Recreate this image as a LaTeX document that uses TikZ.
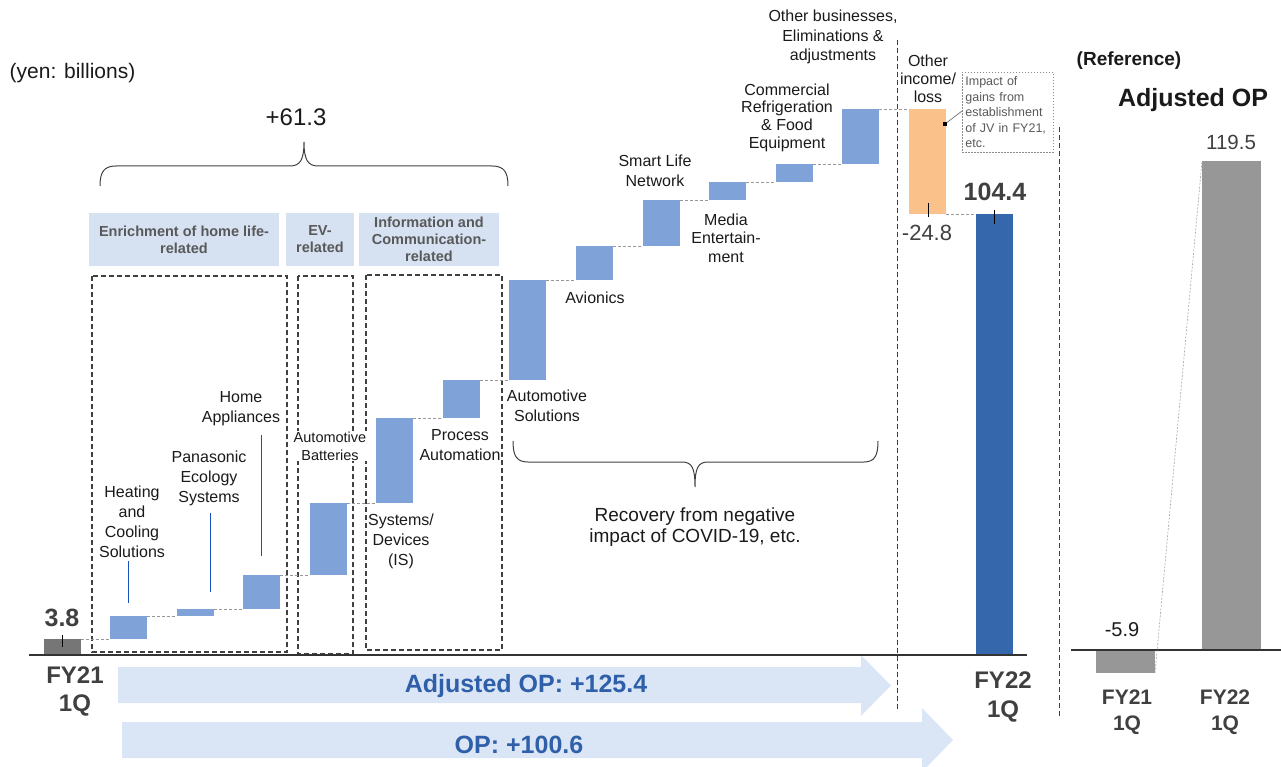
\documentclass[tikz,border=0pt]{standalone}
\usepackage{fontspec}
\setmainfont{Liberation Sans}
\usetikzlibrary{calc}
\definecolor{barblue}{HTML}{7FA3D8}
\definecolor{fyagray}{HTML}{767676}
\definecolor{fybblue}{HTML}{3567AC}
\definecolor{orng}{HTML}{FBC18A}
\definecolor{rgray}{HTML}{979797}
\definecolor{hdrfill}{HTML}{D6E1F2}
\definecolor{arrfill}{HTML}{DAE6F6}
\definecolor{arrtext}{HTML}{2F5FA9}
\definecolor{leadblue}{HTML}{1A4FC4}
\definecolor{txt}{HTML}{1A1A1A}
\definecolor{numgray}{HTML}{404040}
\definecolor{hdrtext}{HTML}{595959}
\newcommand\myfs[2]{\fontsize{#1}{#2}\selectfont}
\begin{document}
\begin{tikzpicture}[x=1pt,y=-1pt,
  barbox/.style={inner sep=0pt, outer sep=0pt, draw=none, anchor=north west},
  conn/.style={draw=black!40, dash pattern=on 3pt off 2pt, line width=0.8pt},
  dbox/.style={draw=numgray, dash pattern=on 5pt off 3pt, line width=1.1pt},
  sepline/.style={draw=numgray, dash pattern=on 5pt off 3pt, line width=1pt},
  lbl/.style={align=center, inner sep=0pt, text=txt, font=\myfs{16}{20}},
  leadline/.style={draw=leadblue, line width=1pt},
  tickline/.style={draw=black, line width=0.9pt},
  hdr/.style={fill=hdrfill, inner sep=0pt, align=center, text=hdrtext, font=\bfseries\myfs{14.5}{17}},
  bracepath/.style={draw=numgray, line width=1pt},
  axisline/.style={draw=black!80, line width=2.5pt},
  arrowbody/.style={fill=arrfill, draw=none},
  arrlbl/.style={text=arrtext, font=\bfseries\myfs{25}{28}, inner sep=0pt}
]
\useasboundingbox (0,0) rectangle (1281,767);
\clip (0,0) rectangle (1281,767);

% ---------- big arrows ----------
\fill[arrowbody] (118,667) -- (861,667) -- (861,655) -- (891,685.5) -- (861,716) -- (861,703) -- (118,703) -- cycle;
\fill[arrowbody] (122,722) -- (922,722) -- (922,708) -- (953,740) -- (922,772) -- (922,758) -- (122,758) -- cycle;
\node[arrlbl] (adjop) at (526,686) {Adjusted OP: +125.4};
\node[arrlbl] (opall) at (519,745) {OP: +100.6};

% ---------- dashed group boxes ----------
\draw[dbox] (92,276) rectangle (287,652);
\draw[dbox] (298,276) rectangle (353,654);
\draw[dbox] (366,275) rectangle (502,650);

% ---------- vertical separators ----------
\draw[sepline] (897,40) -- (897,710);
\draw[sepline] (1059,127) -- (1059,717);

% ---------- header boxes ----------
\node[hdr, minimum width=190pt, minimum height=53pt] (h1) at (184,239.5) {Enrichment of home life-\\related};
\node[hdr, minimum width=68pt, minimum height=53pt] (h2) at (320,239.5) {EV-\\related};
\node[hdr, minimum width=140pt, minimum height=53pt] (h3) at (429,239.5) {Information and\\Communication-\\related};

% ---------- waterfall bars ----------
\node[barbox, fill=fyagray, minimum width=37pt, minimum height=16pt] (fya) at (44,639) {};
\node[barbox, fill=barblue, minimum width=37pt, minimum height=23pt] (heat) at (110,616) {};
\node[barbox, fill=barblue, minimum width=37pt, minimum height=7pt] (eco) at (177,609) {};
\node[barbox, fill=barblue, minimum width=37pt, minimum height=34pt] (home) at (243,575) {};
\node[barbox, fill=barblue, minimum width=37pt, minimum height=72pt] (batt) at (310,503) {};
\node[barbox, fill=barblue, minimum width=37pt, minimum height=85pt] (isd) at (376,418) {};
\node[barbox, fill=barblue, minimum width=37pt, minimum height=38pt] (proc) at (443,380) {};
\node[barbox, fill=barblue, minimum width=37pt, minimum height=100pt] (auto) at (509,280) {};
\node[barbox, fill=barblue, minimum width=37pt, minimum height=34pt] (avio) at (576,246) {};
\node[barbox, fill=barblue, minimum width=37pt, minimum height=46pt] (sln) at (643,200) {};
\node[barbox, fill=barblue, minimum width=37pt, minimum height=18pt] (media) at (709,182) {};
\node[barbox, fill=barblue, minimum width=37pt, minimum height=18pt] (comm) at (776,164) {};
\node[barbox, fill=barblue, minimum width=37pt, minimum height=55pt] (othb) at (842,109) {};
\node[barbox, fill=orng, minimum width=37pt, minimum height=105pt] (othi) at (909,109) {};
\node[barbox, fill=fybblue, minimum width=37pt, minimum height=441pt] (fyb) at (976,214) {};

% connectors between bars
\draw[conn] (fya.north east) -- (heat.south west);
\draw[conn] (heat.north east) -- (eco.south west);
\draw[conn] (eco.north east) -- (home.south west);
\draw[conn] (home.north east) -- (batt.south west);
\draw[conn] (batt.north east) -- (isd.south west);
\draw[conn] (isd.north east) -- (proc.south west);
\draw[conn] (proc.north east) -- (auto.south west);
\draw[conn] (auto.north east) -- (avio.south west);
\draw[conn] (avio.north east) -- (sln.south west);
\draw[conn] (sln.north east) -- (media.south west);
\draw[conn] (media.north east) -- (comm.south west);
\draw[conn] (comm.north east) -- (othb.south west);
\draw[conn] (othb.north east) -- (othi.north west);
\draw[conn] (othi.south east) -- (fyb.north west);

% axis
\draw[axisline] (29,655) -- (1027,655);

% ---------- value labels ----------
\node[inner sep=0pt, text=numgray, font=\bfseries\myfs{25}{28}] (v38) at (62,618) {3.8};
\draw[tickline] (62,635) -- (62,647);
\node[inner sep=0pt, text=numgray, font=\bfseries\myfs{25}{28}] (v1044) at (995,192) {104.4};
\draw[tickline] (994,210) -- (994,224);
\node[inner sep=0pt, text=numgray, font=\myfs{22}{26}] (v248) at (927,233) {-24.8};
\draw[tickline] (928,203) -- (928,217);

% ---------- segment labels ----------
\node[lbl] (lheat) at (132,522) {Heating\\and\\Cooling\\Solutions};
\draw[leadline] (128,561) -- (128,603);
\node[lbl] (leco) at (209,478) {Panasonic\\Ecology\\Systems};
\draw[leadline] (210,513) -- (210,592);
\node[lbl] (lhome) at (241,409) {Home\\Appliances};
\draw[leadline] (261,435) -- (261,556);
\node[lbl, fill=white, font=\myfs{14.5}{18}, inner sep=1pt] (lbatt) at (330,446) {Automotive\\Batteries};
\node[lbl] (lisd) at (401,541) {Systems/\\Devices\\(IS)};
\node[lbl] (lproc) at (460,445) {Process\\Automation};
\node[lbl] (lauto) at (547,406) {Automotive\\Solutions};
\node[lbl] (lavio) at (595,298) {Avionics};
\node[lbl] (lsln) at (655,171) {Smart Life\\Network};
\node[lbl, font=\myfs{16}{18.5}] (lmedia) at (726,238) {Media\\Entertain-\\ment};
\node[lbl, font=\myfs{16}{17.7}] (lcomm) at (787,117.5) {Commercial\\Refrigeration\\\& Food\\Equipment};
\node[lbl, font=\myfs{16}{19.5}] (lothb) at (833,37) {Other businesses,\\Eliminations \&\\adjustments};
\node[lbl, font=\myfs{16}{18}] (lothi) at (928,79) {Other\\income/\\loss};

% callout
\node[draw=black!45, dash pattern=on 1.5pt off 1.5pt, line width=0.7pt, anchor=north west,
      inner sep=3pt, text width=85pt, minimum height=80pt, align=left, text=hdrtext,
      font=\myfs{12.5}{15.5}] (jv) at (962,72) {Impact of\\gains from\\establishment\\of JV in FY21,\\etc.};
\coordinate (jvpt) at (945,124);
\draw[draw=black!55, line width=0.7pt] (jvpt) -- (jv.west |- 0,111);
\fill[black] ($(jvpt)+(-2.2,-2.2)$) rectangle ($(jvpt)+(2.2,2.2)$);

% ---------- braces and bracket texts ----------
\node[inner sep=0pt, text=txt, font=\myfs{21}{24}] (yen) at (72.5,73) {(yen: billions)};
\node[inner sep=0pt, text=txt, font=\myfs{24}{28}] (p613) at (296,117) {+61.3};
\draw[bracepath] (100,186) .. controls (100,172) and (104,166) .. (116,166) -- (290,166)
  .. controls (300,166) and (304,160) .. (304,142) .. controls (304,160) and (308,166) .. (318,166)
  -- (492,166) .. controls (504,166) and (508,172) .. (508,186);
\draw[bracepath] (513,441) .. controls (513,455) and (516,462) .. (528,462) -- (682,462)
  .. controls (692,462) and (695,468) .. (695,487) .. controls (695,468) and (698,462) .. (708,462)
  -- (864,462) .. controls (875,462) and (878,455) .. (878,441);
\node[lbl, font=\myfs{19}{21}] (lrec) at (695,527.5) {Recovery from negative\\impact of COVID-19, etc.};

% ---------- period labels ----------
\node[lbl, text=numgray, font=\bfseries\myfs{24}{28}] (lfya) at (75,691) {FY21\\1Q};
\node[lbl, text=numgray, font=\bfseries\myfs{24}{29}] (lfyb) at (1003,697) {FY22\\1Q};

% ---------- reference panel ----------
\node[inner sep=0pt, text=txt, font=\bfseries\myfs{19}{22}] (lref) at (1129,61) {(Reference)};
\node[inner sep=0pt, text=txt, font=\bfseries\myfs{25}{28}] (ladj) at (1193,100) {Adjusted OP};
\node[barbox, fill=rgray, minimum width=59pt, minimum height=23pt] (rfya) at (1096,650) {};
\node[barbox, fill=rgray, minimum width=59pt, minimum height=489pt] (rfyb) at (1202,161) {};
\draw[axisline] (1071,650) -- (1281,650);
\draw[draw=black!35, dash pattern=on 2pt off 1.5pt, line width=0.6pt] (rfya.south east) -- (rfyb.north west);
\node[inner sep=0pt, text=numgray, font=\myfs{20.5}{24}] (v1195) at (1231,142) {119.5};
\node[inner sep=0pt, text=txt, font=\myfs{20}{24}] (v59) at (1122,630) {-5.9};
\node[lbl, text=numgray, font=\bfseries\myfs{21}{26}] (rla) at (1127,712) {FY21\\1Q};
\node[lbl, text=numgray, font=\bfseries\myfs{21}{26}] (rlb) at (1225,712) {FY22\\1Q};
\end{tikzpicture}
\end{document}
